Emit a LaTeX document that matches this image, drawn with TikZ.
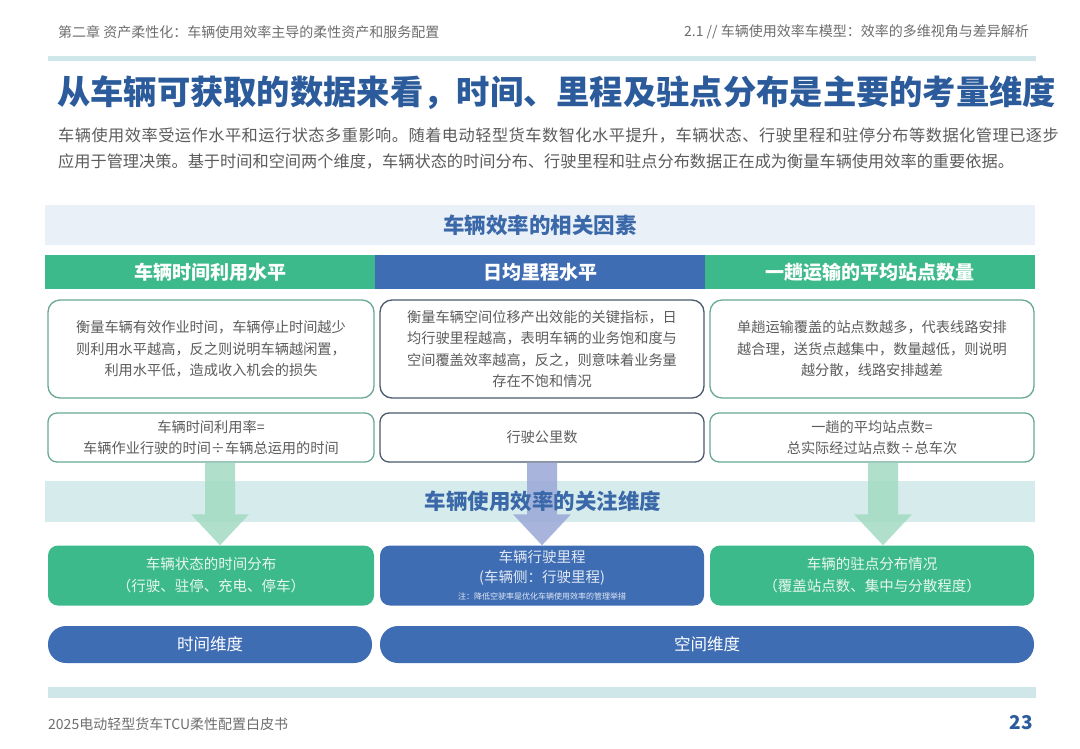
\documentclass[tikz,border=0pt]{standalone}
\usepackage{fontspec}
\setmainfont{Noto Sans CJK SC}
\usetikzlibrary{calc}
\definecolor{cgreen}{HTML}{3DBA8C}
\definecolor{cblue}{HTML}{3F6DB4}
\definecolor{ctitle}{HTML}{2C5B9C}
\definecolor{csec}{HTML}{3A68A8}
\definecolor{cband}{HTML}{E9F0F8}
\definecolor{cteal}{HTML}{D6EBEB}
\definecolor{cline}{HTML}{D0E7EA}
\definecolor{cgray}{HTML}{5C5C5C}
\definecolor{chead}{HTML}{6E6E6E}
\definecolor{cbordG}{HTML}{68A896}
\definecolor{cbordB}{HTML}{4B5A6E}
\definecolor{carrG}{HTML}{A3DBC3}
\definecolor{carrB}{HTML}{9AA7D8}
\newcommand\blockarrow[4]{%
  \fill[#4,fill opacity=0.85] let \p1=(#1.south), \p2=(#2.north) in
    (\x1+#3-15pt,\y1) -- (\x1+#3+15pt,\y1) -- (\x1+#3+15pt,\y2+31pt) --
    (\x1+#3+29pt,\y2+31pt) -- (\x1+#3,\y2) -- (\x1+#3-29pt,\y2+31pt) --
    (\x1+#3-15pt,\y2+31pt) -- cycle;}
\begin{document}
\begin{tikzpicture}[x=1pt,y=-1pt,
  colhead/.style={minimum width=330pt,minimum height=34pt,inner sep=0pt,text=white,font=\fontsize{19}{20}\selectfont\bfseries},
  descbox/.style={draw,rounded corners=12pt,line width=1.3pt,fill=white,minimum height=98pt,inner sep=0pt,align=center,text=cgray,font=\fontsize{14.2}{21.5}\selectfont},
  formbox/.style={draw,rounded corners=9pt,line width=1.3pt,fill=white,minimum height=49pt,inner sep=0pt,align=center,text=cgray,font=\fontsize{14.2}{21.5}\selectfont},
  botbox/.style={rounded corners=10pt,minimum height=60pt,inner sep=0pt,align=center,font=\fontsize{14.5}{22}\selectfont},
  pill/.style={fill=cblue,rounded corners=18pt,minimum height=37pt,inner sep=0pt,text=white,font=\fontsize{16.5}{18}\selectfont},
  sectxt/.style={text=csec,font=\fontsize{21.5}{24}\selectfont\bfseries},
  headtxt/.style={text=chead,font=\fontsize{14}{16}\selectfont,inner sep=0pt}
]
\path[use as bounding box,fill=white] (0,0) rectangle (1080,748);

% page header
\node[headtxt,anchor=west] (hl) at (58,32) {第二章 资产柔性化：车辆使用效率主导的柔性资产和服务配置};
\node[headtxt,anchor=east] (hr) at (1029,32) {2.1 // 车辆使用效率车模型：效率的多维视角与差异解析};
\fill[cline] (48,56) rectangle (1036,61);

% title
\node[anchor=west,inner sep=0pt,text=ctitle,font=\fontsize{33.3}{36}\selectfont\bfseries] (title) at (57,93) {从车辆可获取的数据来看，时间、里程及驻点分布是主要的考量维度};

% paragraph
\node[anchor=west,inner sep=0pt,text=cgray,font=\fontsize{16.2}{18}\selectfont\addfontfeature{LetterSpace=3}] (p1) at (58,136) {车辆使用效率受运作水平和运行状态多重影响。随着电动轻型货车数智化水平提升，车辆状态、行驶里程和驻停分布等数据化管理已逐步};
\node[anchor=west,inner sep=0pt,text=cgray,font=\fontsize{16.2}{18}\selectfont] (p2) at (58,161) {应用于管理决策。基于时间和空间两个维度，车辆状态的时间分布、行驶里程和驻点分布数据正在成为衡量车辆使用效率的重要依据。};

% top band
\fill[cband] (45,205) rectangle (1035,245);
\node[sectxt] (sec1) at (540,225) {车辆效率的相关因素};

% column headers
\node[colhead,fill=cgreen] (h1) at (210,272) {车辆时间利用水平};
\node[colhead,fill=cblue] (h2) at (540,272) {日均里程水平};
\node[colhead,fill=cgreen] (h3) at (870,272) {一趟运输的平均站点数量};

% description boxes
\node[descbox,draw=cbordG,minimum width=326pt] (d1) at (211,349) {衡量车辆有效作业时间，车辆停止时间越少\\则利用水平越高，反之则说明车辆越闲置，\\利用水平低，造成收入机会的损失};
\node[descbox,draw=cbordB,minimum width=324pt] (d2) at (542,349) {衡量车辆空间位移产出效能的关键指标，日\\均行驶里程越高，表明车辆的业务饱和度与\\空间覆盖效率越高，反之，则意味着业务量\\存在不饱和情况};
\node[descbox,draw=cbordG,minimum width=324pt] (d3) at (872,349) {单趟运输覆盖的站点数越多，代表线路安排\\越合理，送货点越集中，数量越低，则说明\\越分散，线路安排越差};

% formula boxes
\node[formbox,draw=cbordG,minimum width=326pt] (f1) at (211,437.5) {车辆时间利用率=\\车辆作业行驶的时间÷车辆总运用的时间};
\node[formbox,draw=cbordB,minimum width=324pt] (f2) at (542,437.5) {行驶公里数};
\node[formbox,draw=cbordG,minimum width=324pt] (f3) at (872,437.5) {一趟的平均站点数=\\总实际经过站点数÷总车次};

% bottom boxes
\node[botbox,fill=cgreen,minimum width=326pt,text=white!88!cgreen] (b1) at (211,575.5) {车辆状态的时间分布\\（行驶、驻停、充电、停车）};
\node[botbox,fill=cblue,minimum width=324pt,text=white!85!cblue] (b2) at (542,575.5) {};
\node[botbox,fill=cgreen,minimum width=324pt,text=white!88!cgreen] (b3) at (872,575.5) {车辆的驻点分布情况\\（覆盖站点数、集中与分散程度）};
\node[text=white!85!cblue,font=\fontsize{14.5}{16}\selectfont,inner sep=0pt] (b2a) at (542,557) {车辆行驶里程};
\node[text=white!85!cblue,font=\fontsize{14.5}{16}\selectfont,inner sep=0pt] (b2b) at (542,578) {(车辆侧：行驶里程)};
\node[text=white!85!cblue,font=\fontsize{8}{9}\selectfont,inner sep=0pt] (b2c) at (542,596) {注：降低空驶率是优化车辆使用效率的管理举措};

% middle band with arrows
\fill[cteal] (45,481) rectangle (1035,522);
\blockarrow{f1}{b1}{9pt}{carrG}
\blockarrow{f2}{b2}{0pt}{carrB}
\blockarrow{f3}{b3}{11pt}{carrG}
\node[sectxt,font=\fontsize{21.5}{24}\selectfont\bfseries] (sec2) at (543,501) {车辆使用效率的关注维度};

% pills
\node[pill,minimum width=324pt] (t1) at (210,644.5) {时间维度};
\node[pill,minimum width=654pt] (t2) at (707,644.5) {空间维度};

% footer
\fill[cline] (48,687) rectangle (1036,698);
\node[headtxt,anchor=west] (foot) at (48,724) {2025电动轻型货车TCU柔性配置白皮书};
\node[anchor=east,inner sep=0pt,text=ctitle,font=\fontsize{19}{20}\selectfont\bfseries] (pg) at (1033,723) {23};
\end{tikzpicture}
\end{document}
